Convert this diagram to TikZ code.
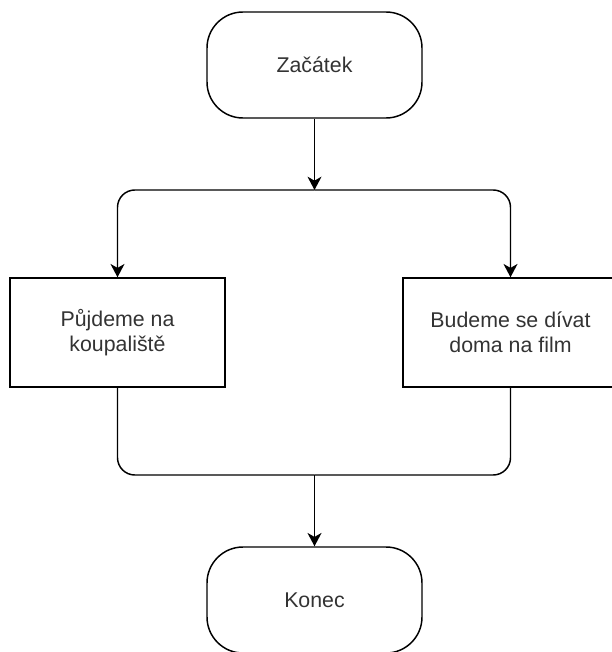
\documentclass[tikz,border=0pt]{standalone}
\usepackage{fontspec}
\setmainfont{Liberation Sans}
\usetikzlibrary{arrows.meta}
\begin{document}
\begin{tikzpicture}[x=0.75pt,y=-0.75pt,
  every node/.style={font=\fontsize{16}{18.75}\selectfont, text=black!80, align=center, inner sep=0pt},
  term/.style={draw=black, line width=1.1pt, rounded corners=27pt, minimum width=161.25pt, minimum height=79.5pt},
  procbox/.style={draw=black, line width=1.1pt, minimum width=161.25pt, minimum height=81.75pt},
  conn/.style={draw=black, line width=1.1pt},
  arr/.style={conn, -{Stealth[length=10pt,width=10.5pt,inset=3pt]}}]
\useasboundingbox (0,0) rectangle (611,652);
\node[term] (start) at (314.5,65) {Začátek};
\node[procbox] (left) at (117.5,332.5) {Půjdeme na\\koupaliště};
\node[procbox] (right) at (510.5,332.5) {Budeme se dívat\\doma na film};
\node[term] (end) at (314.5,600) {Konec};
\coordinate (split) at (314.5,190);
\coordinate (join) at (314.5,475);
\draw[arr] (start) -- (split);
\draw[arr, rounded corners=13pt] (split) -| (left);
\draw[arr, rounded corners=13pt] (split) -| (right);
\draw[conn, rounded corners=13pt] (left) |- (join);
\draw[conn, rounded corners=13pt] (right) |- (join);
\draw[arr] (join) -- (end);
\end{tikzpicture}
\end{document}
